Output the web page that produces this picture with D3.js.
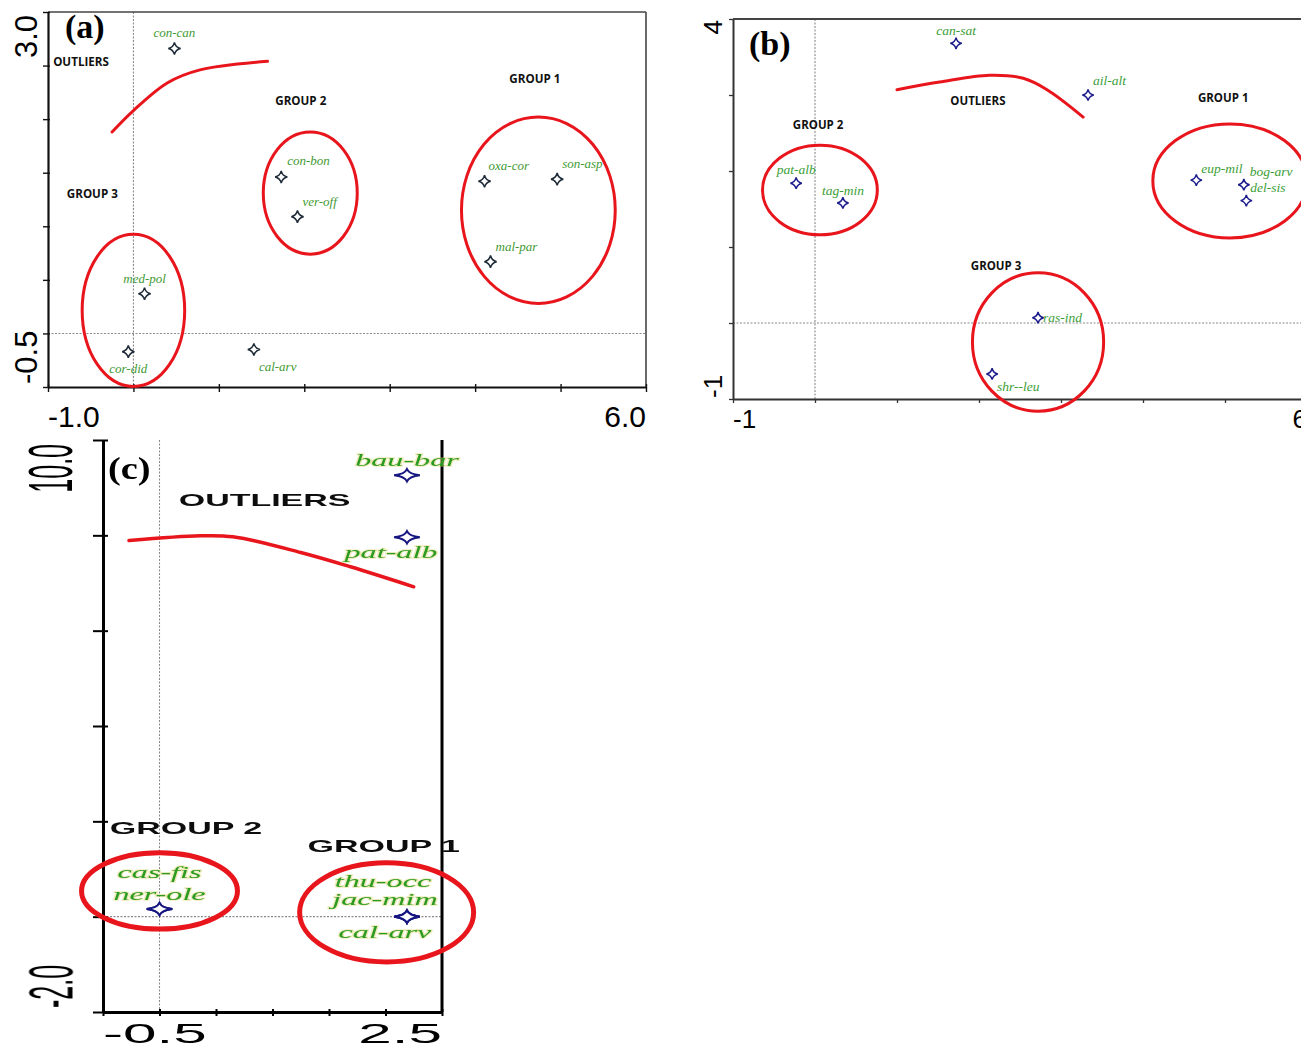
<!DOCTYPE html>
<html>
<head>
<meta charset="utf-8">
<script src="https://cdn.jsdelivr.net/npm/d3@7"></script>
<style>
  html, body { margin: 0; padding: 0; background: #fff; }
  svg { display: block; }
</style>
</head>
<body>
<svg id="fig" width="1301" height="1045"></svg>
<script>
// ---------------- Panel (a) ----------------
const speciesA = ["con-can", "con-bon", "ver-off", "oxa-cor", "son-asp", "mal-par", "med-pol", "cor-did", "cal-arv"];
const axis1A   = [0.48, 1.73, 1.92, 4.11, 4.96, 4.18, 0.13, -0.06, 1.41];
const axis2A   = [2.66, 1.46, 1.09, 1.42, 1.44, 0.67, 0.37, -0.17, -0.15];
const groupsA = [
  { name: "GROUP 1", cx: 4.74, cy: 1.15, rx: 0.90, ry: 0.87 },
  { name: "GROUP 2", cx: 2.07, cy: 1.31, rx: 0.55, ry: 0.57 },
  { name: "GROUP 3", cx: 0.00, cy: 0.215, rx: 0.60, ry: 0.71 }
];
const outlierLineA = [[-0.25, 1.88], [0.0, 2.08], [0.4, 2.34], [0.78, 2.46], [1.57, 2.54]];
const titlesA = [
  { text: "OUTLIERS", x: -0.94, y: 2.50 },
  { text: "GROUP 2",  x: 1.66,  y: 2.13 },
  { text: "GROUP 1",  x: 4.40,  y: 2.34 },
  { text: "GROUP 3",  x: -0.78, y: 1.26 }
];
const xTicksA = [-1, 0, 1, 2, 3, 4, 5, 6];
const yTicksA = [-0.5, 0, 0.5, 1.0, 1.5, 2.0, 2.5, 3.0];
const xTickLabelsA = ["-1.0", "6.0"];
const yTickLabelsA = ["-0.5", "3.0"];

// ---------------- Panel (b) ----------------
const speciesB = ["can-sat", "ail-alt", "pat-alb", "tag-min", "eup-mil", "bog-arv", "del-sis", "ras-ind", "shr--leu"];
const axis1B   = [1.72, 3.33, -0.23, 0.34, 4.65, 5.23, 5.26, 2.72, 2.16];
const axis2B   = [3.68, 3.00, 1.84, 1.58, 1.88, 1.82, 1.61, 0.07, -0.67];
const groupsB = [
  { name: "GROUP 1", cx: 5.06, cy: 1.87, rx: 0.94, ry: 0.75 },
  { name: "GROUP 2", cx: 0.06, cy: 1.75, rx: 0.70, ry: 0.59 },
  { name: "GROUP 3", cx: 2.72, cy: -0.25, rx: 0.80, ry: 0.91 }
];
const outlierLineB = [[1.0, 3.07], [1.52, 3.17], [2.13, 3.26], [2.54, 3.22], [2.83, 3.07], [3.27, 2.71]];
const titlesB = [
  { text: "OUTLIERS", x: 1.65,  y: 2.87 },
  { text: "GROUP 1",  x: 4.67,  y: 2.91 },
  { text: "GROUP 2",  x: -0.27, y: 2.55 },
  { text: "GROUP 3",  x: 1.90,  y: 0.70 }
];
const xTicksB = [-1, 0, 1, 2, 3, 4, 5, 6];
const yTicksB = [-1, 0, 1, 2, 3, 4];
const xTickLabelsB = ["-1", "6"];
const yTickLabelsB = ["-1", "4"];

// ---------------- Panel (c) ----------------
const speciesC = ["bau-bar", "pat-alb", "cas-fis", "ner-ole", "thu-occ", "jac-mim", "cal-arv"];
const axis1C   = [2.19, 2.19, 0.0, 0.0, 2.19, 2.19, 2.19];
const axis2C   = [9.26, 7.96, 0.16, 0.16, 0.0, 0.0, 0.0];
const groupsC = [
  { name: "GROUP 1", cx: 2.01, cy: 0.09, rx: 0.77, ry: 1.04 },
  { name: "GROUP 2", cx: 0.00, cy: 0.54, rx: 0.69, ry: 0.80 }
];
const outlierLineC = [[-0.27, 7.89], [0.36, 7.99], [0.65, 7.97], [1.25, 7.64], [1.69, 7.34], [2.25, 6.92]];
const titlesC = [
  { text: "OUTLIERS", x: 0.17,  y: 8.61 },
  { text: "GROUP 2",  x: -0.44, y: 1.73 },
  { text: "GROUP 1",  x: 1.31,  y: 1.36 }
];
const xTicksC = [-0.5, 0, 0.5, 1.0, 1.5, 2.0, 2.5];
const yTicksC = [-2, 0, 2, 4, 6, 8, 10];
const xTickLabelsC = ["-0.5", "2.5"];
const yTickLabelsC = ["-2.0", "10.0"];

// Label placement next to each marker: [dx, dy, anchor] in pixels
const labelPlaceA = {
  "con-can": [0, -11, "middle"], "con-bon": [6, -12, "start"], "ver-off": [5, -11, "start"],
  "oxa-cor": [4, -11, "start"], "son-asp": [5, -11, "start"], "mal-par": [5, -11, "start"],
  "med-pol": [0, -11, "middle"], "cor-did": [0, 21, "middle"], "cal-arv": [5, 21, "start"]
};
const labelPlaceB = {
  "can-sat": [0, -8, "middle"], "ail-alt": [5, -10, "start"], "pat-alb": [0, -9, "middle"],
  "tag-min": [0, -8, "middle"], "eup-mil": [5, -7, "start"], "bog-arv": [6, -9, "start"],
  "del-sis": [4, -9, "start"], "ras-ind": [5, 4, "start"], "shr--leu": [5, 17, "start"]
};
const labelPlaceC = {
  "bau-bar": [0, -9, "middle"], "pat-alb": [-16, 21, "middle"], "cas-fis": [0, -31, "middle"],
  "ner-ole": [0, -9, "middle"], "thu-occ": [-24, -30, "middle"], "jac-mim": [-22, -12, "middle"],
  "cal-arv": [-22, 21, "middle"]
};

const serif = "'Liberation Serif', 'DejaVu Serif', serif";
const sans = "'Liberation Sans', Arial, sans-serif";
const groupSans = "'Open Sans', 'Liberation Sans', sans-serif";

const svg = d3.select("#fig");

// Blur for the enlarged panel (c)
const defs = svg.append("defs");
defs.append("filter").attr("id", "soft")
  .attr("x", "-5%").attr("y", "-5%").attr("width", "110%").attr("height", "110%")
  .append("feGaussianBlur").attr("stdDeviation", 0.55);

// Four-pointed star with concave sides
const star4 = {
  draw(ctx, size) {
    const r = Math.sqrt(size) / 2;
    const c = r * 0.18;
    ctx.moveTo(0, -r);
    ctx.quadraticCurveTo(c, -c, r, 0);
    ctx.quadraticCurveTo(c, c, 0, r);
    ctx.quadraticCurveTo(-c, c, -r, 0);
    ctx.quadraticCurveTo(-c, -c, 0, -r);
    ctx.closePath();
  }
};

function text(g, str, px, py, o) {
  const sx = o.sx || 1;
  const t = g.append("text")
    .attr("transform", `translate(${px},${py}) scale(${sx},1)` + (o.rotate ? " rotate(-90)" : ""))
    .attr("text-anchor", o.anchor || "start")
    .attr("font-family", o.family)
    .attr("font-size", o.size)
    .attr("font-weight", o.weight || "normal")
    .attr("font-style", o.italic ? "italic" : "normal")
    .attr("fill", o.fill || "#000")
    .text(str);
  if (o.letter) t.attr("letter-spacing", o.letter);
  if (o.halo) t.attr("stroke", o.halo).attr("stroke-width", 1.6).attr("stroke-opacity", 0.45).attr("paint-order", "stroke");
  return t;
}

function drawPanel(p) {
  const g = svg.append("g");
  if (p.filter) g.attr("filter", p.filter);
  const x = d3.scaleLinear(p.xDomain, p.xRange);
  const y = d3.scaleLinear(p.yDomain, p.yRange);
  const [x0, x1] = p.xRange, [y0, y1] = p.yRange;  // y0 bottom, y1 top

  // dotted reference lines through the origin
  g.append("line").attr("x1", x(0)).attr("x2", x(0)).attr("y1", y1).attr("y2", y0)
    .attr("stroke", "#8a8a8a").attr("stroke-width", 1.1).attr("stroke-dasharray", "2,1.5");
  g.append("line").attr("x1", x0).attr("x2", x1).attr("y1", y(0)).attr("y2", y(0))
    .attr("stroke", "#8a8a8a").attr("stroke-width", 1.1).attr("stroke-dasharray", "2,1.5");

  // frame
  if (p.topBorder) g.append("line").attr("x1", x0).attr("x2", x1).attr("y1", y1).attr("y2", y1)
    .attr("stroke", p.borderColor).attr("stroke-width", p.borderWidth);
  if (p.rightBorder) g.append("line").attr("x1", x1).attr("x2", x1).attr("y1", y1).attr("y2", y0)
    .attr("stroke", p.borderColor).attr("stroke-width", p.borderWidth);

  // axes
  const ax = g.append("g").attr("transform", `translate(0,${y0})`)
    .call(d3.axisBottom(x).tickValues(p.xTicks).tickFormat("").tickSizeInner(p.xTickOut).tickSizeOuter(0));
  const ay = g.append("g").attr("transform", `translate(${x0},0)`)
    .call(d3.axisLeft(y).tickValues(p.yTicks).tickFormat("").tickSizeInner(p.yTickOut).tickSizeOuter(0));
  [ax, ay].forEach(a => {
    a.select(".domain").attr("stroke", p.axisColor).attr("stroke-width", p.axisWidth);
    a.selectAll(".tick line").attr("stroke", p.axisColor).attr("stroke-width", p.tickWidth);
  });
  ax.selectAll(".tick line").attr("y1", -p.xTickIn);
  ay.selectAll(".tick line").attr("x1", p.yTickIn);

  // tick labels at the axis extremes
  const tl = p.tickLabel;
  text(g, p.xTickLabels[0], x0, tl.xBase, { family: sans, size: tl.xSize, sx: tl.sx, anchor: "start" });
  text(g, p.xTickLabels[1], x1, tl.xBase, { family: sans, size: tl.xSize, sx: tl.sx, anchor: "end" });
  text(g, p.yTickLabels[0], tl.yBase, y0 - tl.yInset, { family: sans, size: tl.ySize, sx: tl.ysx, anchor: "start", rotate: true });
  text(g, p.yTickLabels[1], tl.yBase, y1 + tl.yInset, { family: sans, size: tl.ySize, sx: tl.ysx, anchor: "end", rotate: true });

  // group ellipses
  g.selectAll("ellipse.grp").data(p.groups).join("ellipse").attr("class", "grp")
    .attr("cx", d => x(d.cx)).attr("cy", d => y(d.cy))
    .attr("rx", d => Math.abs(x(d.cx + d.rx) - x(d.cx)))
    .attr("ry", d => Math.abs(y(d.cy + d.ry) - y(d.cy)))
    .attr("fill", "none").attr("stroke", "#e8161c").attr("stroke-width", p.ringWidth);

  // outlier boundary
  g.append("path").datum(p.outlierLine)
    .attr("d", d3.line().x(d => x(d[0])).y(d => y(d[1])).curve(d3.curveCatmullRom.alpha(0.5)))
    .attr("fill", "none").attr("stroke", "#e8161c").attr("stroke-width", p.lineWidth).attr("stroke-linecap", "round");

  // group titles
  p.titles.forEach(t => text(g, t.text, x(t.x), y(t.y), {
    family: p.titleFont.family, size: p.titleFont.size, weight: "bold", sx: p.titleFont.sx, fill: "#111"
  }));

  // species markers and names
  const pts = p.species.map((s, i) => ({ name: s, x: p.axis1[i], y: p.axis2[i] }));
  const sym = d3.symbol().type(star4).size(p.markerSize);
  g.selectAll("path.sp").data(pts).join("path").attr("class", "sp")
    .attr("transform", d => `translate(${x(d.x)},${y(d.y)}) scale(${p.markerSx},1)`)
    .attr("d", sym)
    .attr("fill", "#fff").attr("stroke", p.markerColor).attr("stroke-width", p.markerStroke)
    .attr("vector-effect", "non-scaling-stroke");
  pts.forEach(d => {
    const [dx, dy, anchor] = p.place[d.name];
    text(g, d.name, x(d.x) + dx, y(d.y) + dy, {
      family: serif, size: p.nameFont.size, italic: true, sx: p.nameFont.sx, anchor,
      fill: p.nameFont.fill, halo: p.nameFont.halo, letter: p.nameFont.letter
    });
  });

  // panel tag
  text(g, p.tag.text, p.tag.x, p.tag.y, { family: serif, size: p.tag.size, weight: "bold", sx: p.tag.sx || 1, fill: "#000" });
}

drawPanel({
  xDomain: [-1, 6], xRange: [48, 646], yDomain: [-0.5, 3.0], yRange: [387, 12],
  xTicks: xTicksA, yTicks: yTicksA, xTickLabels: xTickLabelsA, yTickLabels: yTickLabelsA,
  xTickOut: 5, xTickIn: 3, yTickOut: 5, yTickIn: 2,
  axisColor: "#111", axisWidth: 2.2, tickWidth: 1.4,
  topBorder: true, rightBorder: true, borderColor: "#444", borderWidth: 1.6,
  tickLabel: { xBase: 427, xSize: 30, sx: 1, yBase: 37, ySize: 31, ysx: 1, yInset: 3 },
  groups: groupsA, outlierLine: outlierLineA, ringWidth: 3, lineWidth: 3,
  titles: titlesA, titleFont: { family: groupSans, size: 12.5, sx: 0.93 },
  species: speciesA, axis1: axis1A, axis2: axis2A, place: labelPlaceA,
  markerSize: 150, markerSx: 1, markerColor: "#1e2b38", markerStroke: 1.5,
  nameFont: { size: 13, sx: 1, fill: "#3f9a34" },
  tag: { text: "(a)", x: 65, y: 38, size: 34 }
});

drawPanel({
  xDomain: [-1, 6], xRange: [733, 1307], yDomain: [-1, 4], yRange: [399, 19],
  xTicks: xTicksB, yTicks: yTicksB, xTickLabels: xTickLabelsB, yTickLabels: yTickLabelsB,
  xTickOut: 4, xTickIn: 0, yTickOut: 4, yTickIn: 0,
  axisColor: "#333", axisWidth: 2, tickWidth: 1.3,
  topBorder: true, rightBorder: true, borderColor: "#444", borderWidth: 2,
  tickLabel: { xBase: 428, xSize: 26, sx: 1, yBase: 722, ySize: 26, ysx: 1, yInset: 1 },
  groups: groupsB, outlierLine: outlierLineB, ringWidth: 3, lineWidth: 3,
  titles: titlesB, titleFont: { family: groupSans, size: 11.5, sx: 1 },
  species: speciesB, axis1: axis1B, axis2: axis2B, place: labelPlaceB,
  markerSize: 130, markerSx: 1, markerColor: "#1c1c8c", markerStroke: 1.5,
  nameFont: { size: 13.5, sx: 1, fill: "#3a9e36" },
  tag: { text: "(b)", x: 749, y: 55, size: 34 }
});

drawPanel({
  xDomain: [-0.5, 2.5], xRange: [103, 442], yDomain: [-2, 10], yRange: [1012, 440],
  xTicks: xTicksC, yTicks: yTicksC, xTickLabels: xTickLabelsC, yTickLabels: yTickLabelsC,
  xTickOut: 4, xTickIn: 3, yTickOut: 10, yTickIn: 5,
  axisColor: "#000", axisWidth: 3, tickWidth: 2,
  topBorder: false, rightBorder: true, borderColor: "#000", borderWidth: 3,
  tickLabel: { xBase: 1043, xSize: 28, sx: 2.15, yBase: 72, ySize: 25, ysx: 2.5, yInset: 4 },
  groups: groupsC, outlierLine: outlierLineC, ringWidth: 5, lineWidth: 3.5,
  titles: titlesC, titleFont: { family: sans, size: 17, sx: 2.0 },
  species: speciesC, axis1: axis1C, axis2: axis2C, place: labelPlaceC,
  markerSize: 150, markerSx: 2.1, markerColor: "#141480", markerStroke: 2,
  nameFont: { size: 16.5, sx: 1.95, fill: "#2a9a22", halo: "#d8d060" },
  tag: { text: "(c)", x: 108, y: 479, size: 32, sx: 1.2 },
  filter: "url(#soft)"
});
</script>
</body>
</html>
